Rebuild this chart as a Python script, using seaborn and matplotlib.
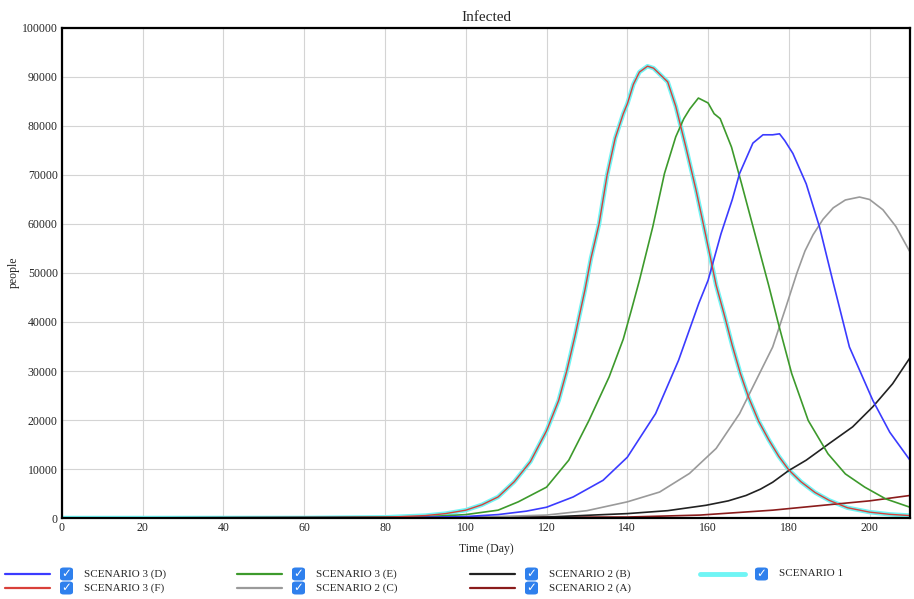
import seaborn as sns
import matplotlib.pyplot as plt
import matplotlib.lines as mlines
from matplotlib.patches import FancyBboxPatch

# --- dados (Time em dias, Infected em pessoas) ---
days_s1 = [0, 60, 80, 90, 95, 100, 104, 108, 112, 116, 120, 123, 125, 127, 129.5, 131, 133, 135,
           137, 139, 140, 141.5, 143, 145, 146.5, 148.5, 150, 152, 154.5, 157, 159.5, 162, 164,
           166, 168, 170, 172.5, 175, 177.5, 180, 183, 186.5, 190, 194.5, 200, 205, 210]
scenario_1 = [0, 20, 150, 500, 900, 1600, 2700, 4300, 7400, 11500, 17800, 24000, 30000, 37000,
              46500, 53000, 60000, 70000, 77500, 82500, 84500, 88500, 91000, 92200, 91800, 90200,
              89000, 84000, 75700, 67000, 57400, 47500, 41500, 35200, 29500, 24700, 19800, 16000,
              12600, 9800, 7400, 5200, 3600, 2100, 1200, 750, 500]
scenario_3f = list(scenario_1)  # a curva F fica sobre a curva do cenário 1

days_e = [0, 60, 80, 90, 100, 108, 113, 120, 125.5, 130.5, 135.5, 139, 141, 143, 146.3, 149.2, 152,
          154, 155.5, 157.6, 160, 161.5, 163, 165.8, 168.3, 171.6, 175, 177.4, 180.7, 184.8, 189.7,
          194, 198.8, 204, 210]
scenario_3e = [0, 10, 80, 250, 700, 1600, 3300, 6300, 11800, 19900, 28800, 36500, 42400, 48500,
               59400, 70300, 77800, 81500, 83500, 85700, 84700, 82500, 81500, 75700, 68200, 58000,
               47500, 39700, 29500, 19900, 13100, 9000, 6300, 3900, 2200]

days_d = [0, 80, 100, 108, 115, 120, 126.6, 134, 140, 147, 152.7, 157.7, 160, 163.2, 166, 167.8,
          171.1, 173.6, 176, 177.7, 179, 181, 184.3, 187.6, 191, 195, 200.8, 205, 210]
scenario_3d = [0, 30, 300, 700, 1400, 2200, 4300, 7700, 12400, 21300, 32200, 43800, 48500, 58000,
               65000, 70300, 76500, 78200, 78200, 78400, 77000, 74400, 68200, 59400, 48000, 34900,
               24000, 17500, 11800]

days_c = [0, 100, 120, 130, 140, 148, 155.4, 162, 167.8, 171.9, 176, 179.3, 182, 184, 186, 188.5,
          191, 194, 197.5, 200, 203.3, 206.5, 210]
scenario_2c = [0, 100, 600, 1500, 3300, 5300, 9100, 14200, 21300, 28100, 34900, 43100, 50000,
               54500, 57800, 61000, 63300, 64900, 65500, 65000, 62900, 59500, 54300]

days_b = [0, 120, 140, 150, 159.5, 165, 169.4, 173, 176, 180, 184.3, 190, 195.8, 200.8, 205.7, 210]
scenario_2b = [0, 200, 900, 1500, 2600, 3500, 4600, 5900, 7300, 9700, 11800, 15200, 18600, 22700,
               27400, 32700]

days_a = [0, 140, 158, 176, 191, 200, 210]
scenario_2a = [0, 200, 600, 1600, 2800, 3500, 4600]

x_ticks = list(range(0, 201, 20))
y_ticks = list(range(0, 100001, 10000))

# --- estilo ---
sns.set_style("whitegrid")
plt.rcParams['font.family'] = ['Liberation Serif', 'DejaVu Sans']
plt.rcParams['grid.color'] = '#d4d4d4'

fig = plt.figure(figsize=(9.14, 5.99), dpi=100)
ax = fig.add_axes([0.0678, 0.1352, 0.9278, 0.8181])

series = [
    ('SCENARIO 1', days_s1, scenario_1, '#6ff5f5', 3.2),
    ('SCENARIO 2 (A)', days_a, scenario_2a, '#8b1c1c', 1.2),
    ('SCENARIO 2 (B)', days_b, scenario_2b, '#222222', 1.2),
    ('SCENARIO 2 (C)', days_c, scenario_2c, '#9a9a9a', 1.2),
    ('SCENARIO 3 (E)', days_e, scenario_3e, '#3d9a2c', 1.2),
    ('SCENARIO 3 (D)', days_d, scenario_3d, '#3b3bff', 1.2),
    ('SCENARIO 3 (F)', days_s1, scenario_3f, '#d9403a', 1.0),
]
for name, xs, ys, col, lw in series:
    sns.lineplot(x=xs, y=ys, ax=ax, color=col, linewidth=lw, sort=False)

ax.set_xlim(0, 210)
ax.set_ylim(0, 100000)
ax.set_xticks(x_ticks)
ax.set_yticks(y_ticks)
ax.tick_params(axis='both', length=0, labelsize=8.5, pad=3)
for s in ax.spines.values():
    s.set_color('black')
    s.set_linewidth(1.6)
ax.set_title('Infected', fontsize=11, pad=5)
ax.set_xlabel('Time (Day)', fontsize=8.5, labelpad=6)
ax.set_ylabel('')
fig.text(14 / 914, 1 - 272 / 599, 'people', rotation=90, fontsize=8.5, ha='center', va='center')

# --- legenda com caixas de seleção ---
legend_items = [
    ('SCENARIO 3 (D)', '#3b3bff', 0), ('SCENARIO 3 (F)', '#d9403a', 0),
    ('SCENARIO 3 (E)', '#3d9a2c', 1), ('SCENARIO 2 (C)', '#9a9a9a', 1),
    ('SCENARIO 2 (B)', '#222222', 2), ('SCENARIO 2 (A)', '#8b1c1c', 2),
    ('SCENARIO 1', '#6ff5f5', 3),
]
col_x = [5, 237, 470, 700]
W, H = 914, 599
rows_used = {}
for label, col, c in legend_items:
    r = rows_used.get(c, 0)
    rows_used[c] = r + 1
    ypx = 574 + r * 14
    y = 1 - ypx / H
    x0 = col_x[c]
    lw = 3.5 if label == 'SCENARIO 1' else 1.6
    fig.add_artist(mlines.Line2D([x0 / W, (x0 + 45) / W], [y, y], color=col, lw=lw,
                                 transform=fig.transFigure))
    box = FancyBboxPatch(((x0 + 55) / W, 1 - (ypx + 6.5) / H), 13 / W, 13 / H,
                         boxstyle='round,pad=0,rounding_size=0.004', fc='#2f80ed', ec='none',
                         transform=fig.transFigure)
    fig.add_artist(box)
    fig.text((x0 + 61.5) / W, y, '✓', color='white', fontsize=8.5, ha='center', va='center',
             family='DejaVu Sans', fontweight='bold')
    fig.text((x0 + 79) / W, y, label, fontsize=8, ha='left', va='center')

fig.savefig('out.png', dpi=100)
